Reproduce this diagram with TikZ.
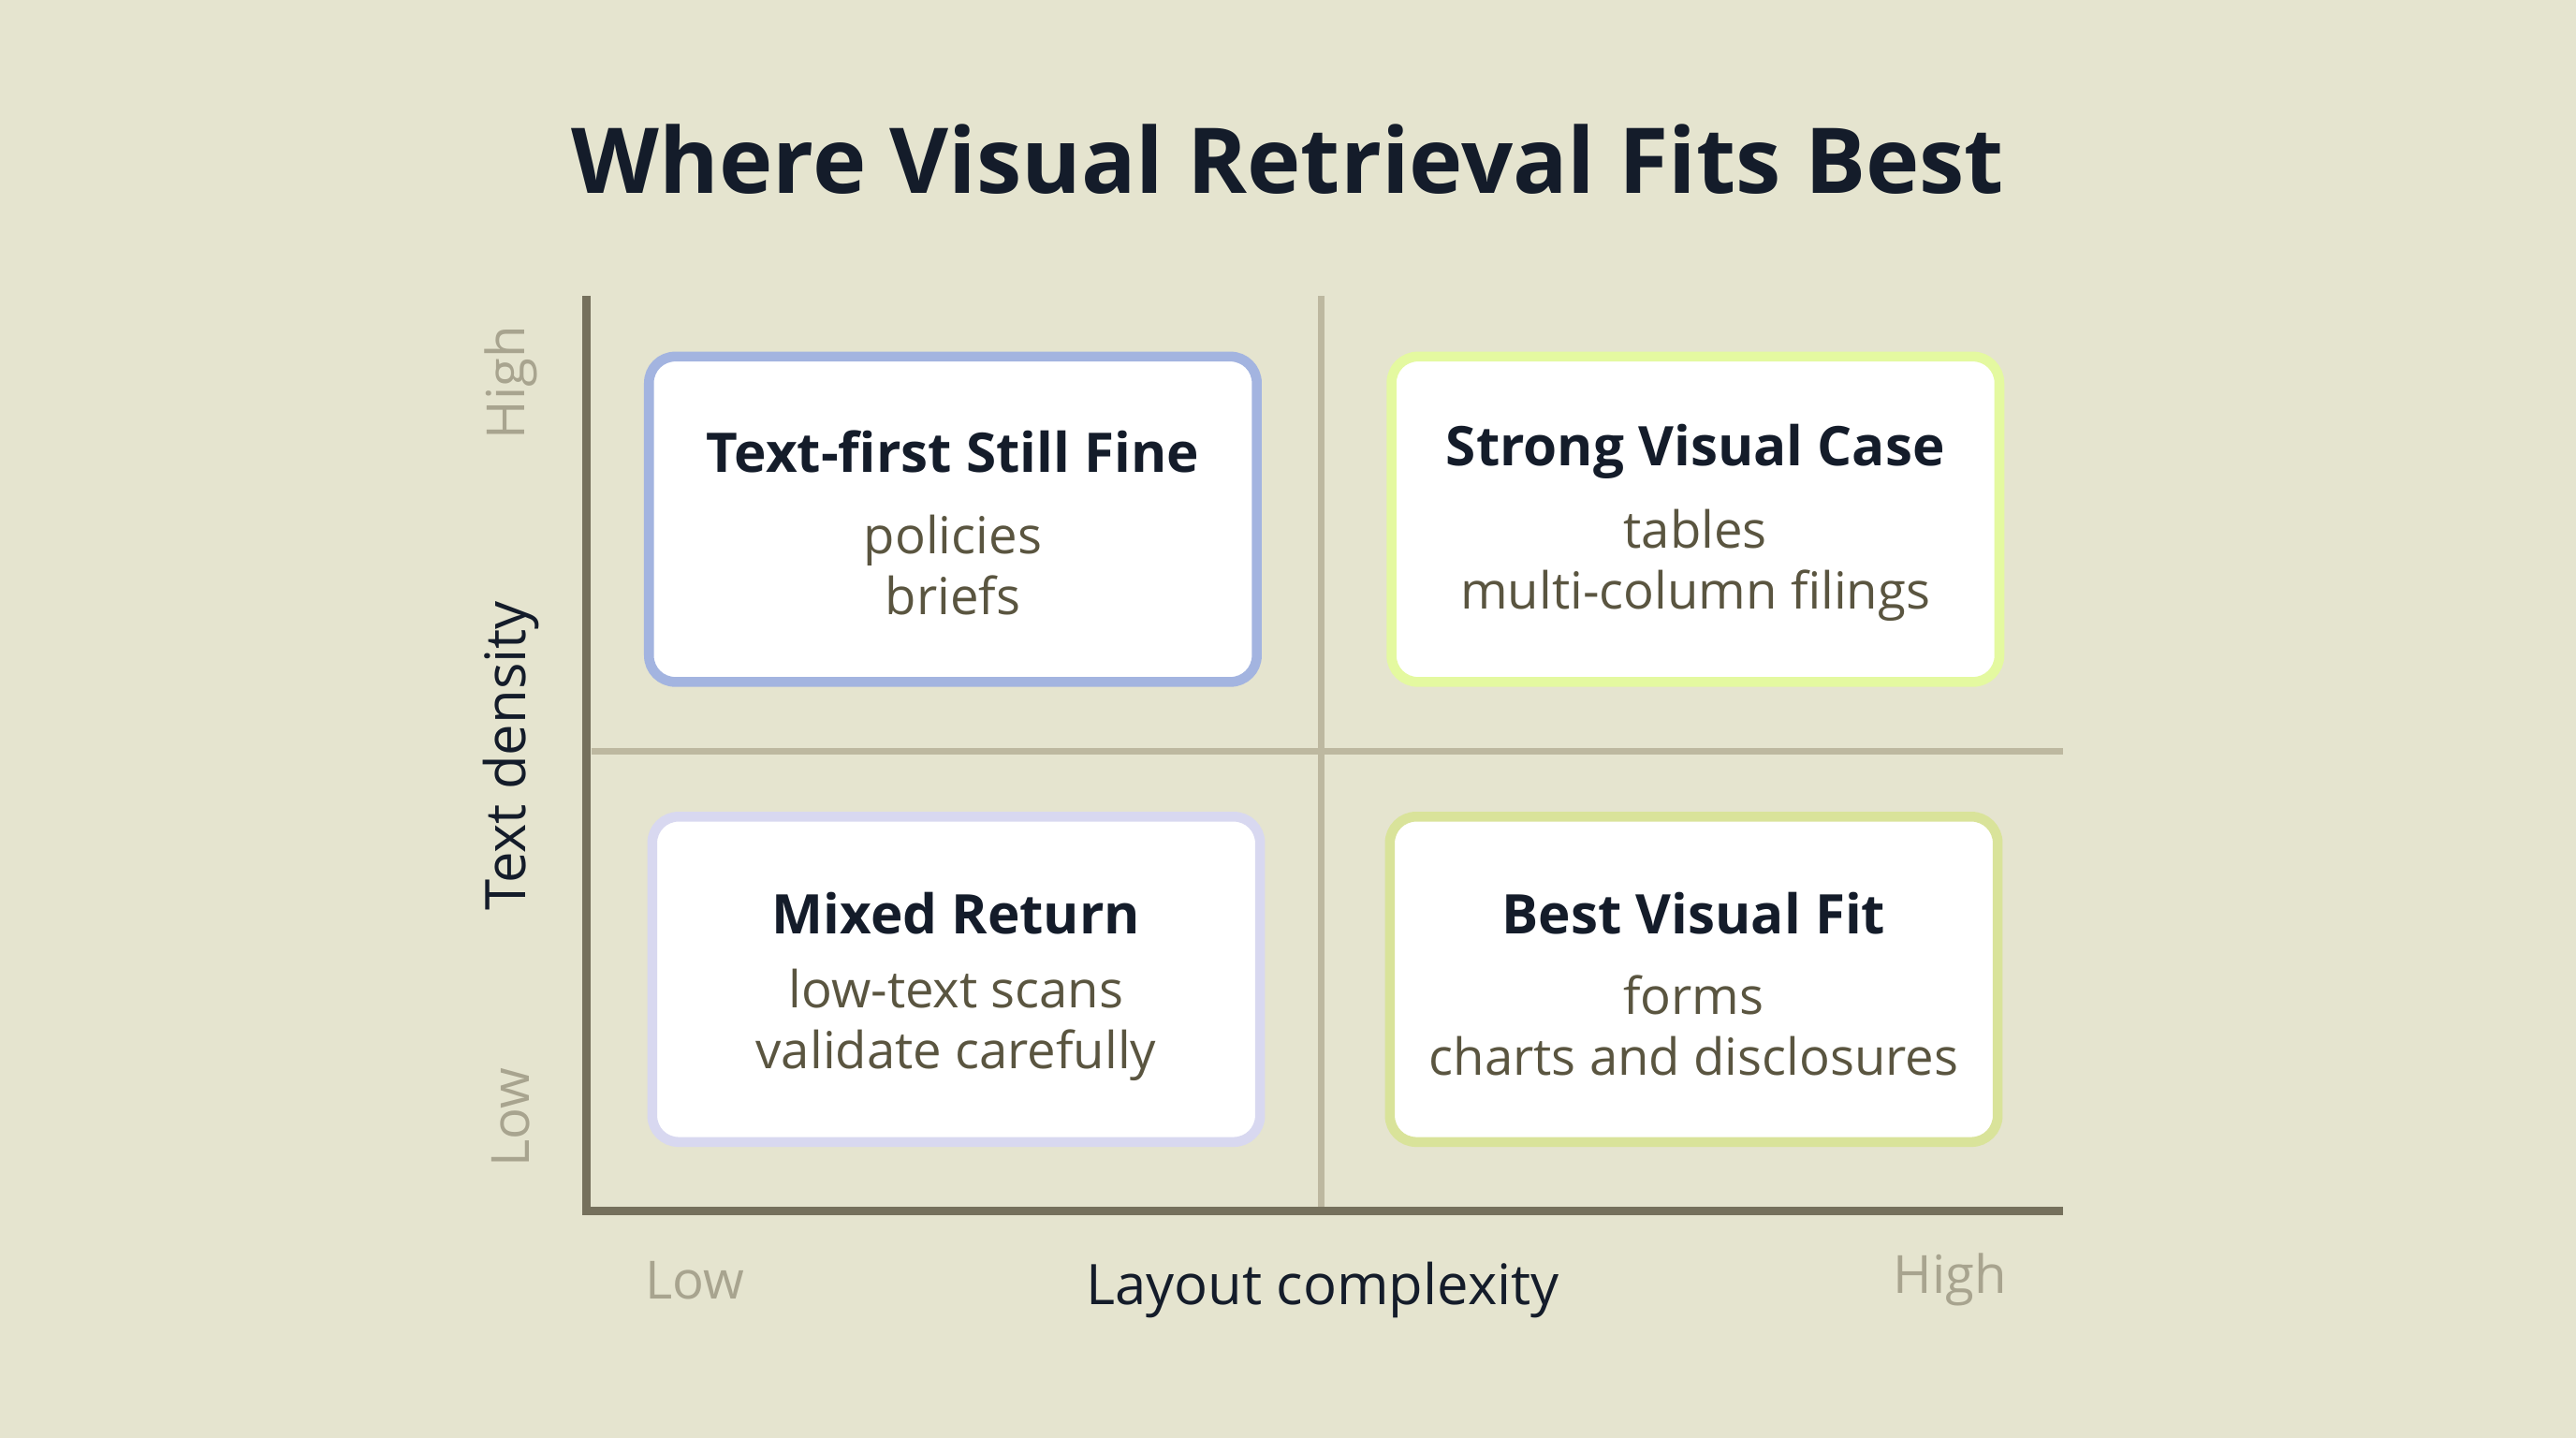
\documentclass[tikz,border=0pt]{standalone}
\usepackage{fontspec}
\setmainfont{Open Sans}
\usetikzlibrary{positioning}
\definecolor{bg}{HTML}{E5E4CF}
\definecolor{ink}{HTML}{141C2A}
\definecolor{subink}{HTML}{5A5540}
\definecolor{axisgray}{HTML}{75705C}
\definecolor{midline}{HTML}{BDB8A0}
\definecolor{lowgray}{HTML}{A8A48F}
\definecolor{qblue}{HTML}{A3B4E0}
\definecolor{qlime}{HTML}{E4F9A0}
\definecolor{qlav}{HTML}{D8D8F0}
\definecolor{qolive}{HTML}{D9E39A}

\tikzset{
        quad/.style = {draw=#1, line width=3pt, fill=white, rounded corners=8pt,
            minimum width=370*0.01755cm, minimum height=198*0.01755cm},
        quadtitle/.style = {text=ink, font=\fontsize{16.6}{20}\selectfont\bfseries},
        quadsub/.style = {text=subink, align=center, font=\fontsize{15.5}{18.5}\selectfont},
        ticklabel/.style = {text=lowgray, font=\fontsize{16}{20}\selectfont},
        axislabel/.style = {text=ink, font=\fontsize{17}{20}\selectfont}
    }

\begin{document}
\begin{tikzpicture}[x=0.01755cm, y=-0.01755cm]
            \fill[bg] (0,0) rectangle (1568,875);
            \useasboundingbox (0,0) rectangle (1568,875);

            \node[text=ink, font=\fontsize{27.6}{32}\selectfont\bfseries] (title) at (784,97) {Where Visual Retrieval Fits Best};

            % grid lines
            \coordinate (vtop) at (804,180);
            \coordinate (vbot) at (804,735);
            \coordinate (hleft) at (360,457);
            \coordinate (hright) at (1256,457);
            \draw[midline, line width=2pt] (vtop) -- (vbot);
            \draw[midline, line width=2pt] (hleft) -- (hright);

            % axes
            \coordinate (origin) at (357,737);
            \coordinate (ytop) at (357,180);
            \coordinate (xend) at (1256,737);
            \draw[axisgray, line width=2.5pt] (ytop) -- (origin) -- (xend);

            % quadrants
            \node[quad=qblue] (tl) at (580,316) {};
            \node[quad=qlime] (tr) at (1032,316) {};
            \node[quad=qlav] (bl) at (582,596) {};
            \node[quad=qolive] (br) at (1031,596) {};

            \node[quadtitle] (tltitle) at (580,275) {Text-first Still Fine};
            \node[quadsub] (tlsub) at (580,344) {policies\\briefs};
            \node[quadtitle] (trtitle) at (1032,275) {Strong Visual Case};
            \node[quadsub] (trsub) at (1032,344) {tables\\multi-column filings};
            \node[quadtitle] (bltitle) at (582,556) {Mixed Return};
            \node[quadsub] (blsub) at (582,624) {low-text scans\\validate carefully};
            \node[quadtitle] (brtitle) at (1031,556) {Best Visual Fit};
            \node[quadsub] (brsub) at (1031,624) {forms\\charts and disclosures};

            % axis labels
            \node[ticklabel] (xlow) at (423,779) {Low};
            \node[axislabel] (xname) at (805,785) {Layout complexity};
            \node[ticklabel] (xhigh) at (1187,779) {High};
            \node[ticklabel, rotate=90] (yhigh) at (311,233) {High};
            \node[axislabel, rotate=90] (yname) at (311,460) {Text density};
            \node[ticklabel, rotate=90] (ylow) at (311,680) {Low};
        \end{tikzpicture}
\end{document}
